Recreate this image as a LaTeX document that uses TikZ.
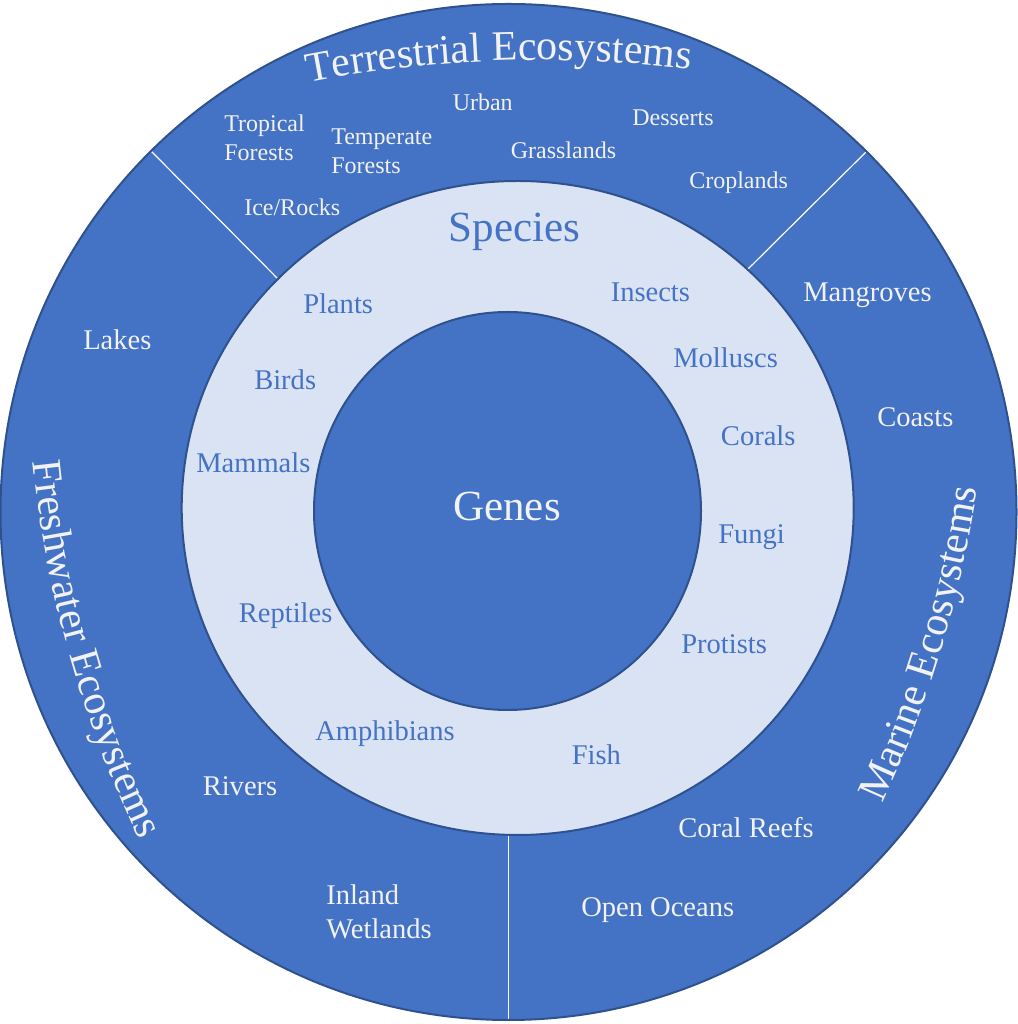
\documentclass[tikz,border=0pt]{standalone}
\usepackage{fontspec}
\setmainfont{Liberation Serif}
\usetikzlibrary{decorations.text,calc}
\definecolor{bluefill}{HTML}{4472C4}
\definecolor{blueline}{HTML}{2F528F}
\definecolor{lightfill}{HTML}{DAE3F3}
\definecolor{txtlight}{HTML}{F2F2F2}
\newcommand{\titlefnt}{\fontsize{31.5}{37}\selectfont}
\begin{document}
\begin{tikzpicture}[x=0.75pt,y=0.75pt,
  itemW/.style={text=txtlight, font=\fontsize{21.4}{25.5}\selectfont, inner sep=0pt, anchor=base west, align=left},
  itemT/.style={text=txtlight, font=\fontsize{18}{21.9}\selectfont, inner sep=0pt, anchor=base west, align=left},
  itemS/.style={text=bluefill, font=\fontsize{21.4}{25.5}\selectfont, inner sep=0pt, anchor=base west},
  bigS/.style={font=\fontsize{32.25}{38}\selectfont, inner sep=0pt, anchor=base west},
  divider/.style={draw=white, line width=0.9pt},
  ring/.style={draw=blueline, line width=1.5pt},
  titletext/.style={decorate, decoration={text along path, text={|\titlefnt|#1}, text align=center, text color=txtlight}}
]
\useasboundingbox (0,0) rectangle (1017,1024);
\fill[white] (0,0) rectangle (1017,1024);
% outer ring
\fill[bluefill] (508.5,512) circle[radius=508];
\coordinate (l1) at (150,874);
\coordinate (l2) at (285,738);
\coordinate (r1) at (867,873);
\coordinate (r2) at (740,747);
\coordinate (b1) at (508.3,2);
\coordinate (b2) at (508.3,200);
\draw[divider] (l1) -- (l2);
\draw[divider] (r1) -- (r2);
\draw[divider] (b1) -- (b2);
\draw[ring] (508.5,512) circle[radius=508];
% species ring
\filldraw[ring, fill=lightfill] (517.7,516) ellipse[x radius=336, y radius=327];
% genes
\filldraw[ring, fill=bluefill] (507.5,513) ellipse[x radius=193.5, y radius=199];

% titles along arcs
\path[titletext={Terrestrial Ecosystems}] ($(540,-236)+(103.96:1200)$) arc[start angle=103.96, end angle=79.96, radius=1200];
\path[titletext={Freshwater Ecosystems}] ($(1161,676.6)+(182.76:1134)$) arc[start angle=182.76, end angle=208.76, radius=1134];
\path[titletext={Marine Ecosystems}] ($(-142.9,699.7)+(-29.7:1132)$) arc[start angle=-29.7, end angle=-3.7, radius=1132];

% terrestrial items
\node[itemT] (trop) at (224,863) {Tropical\\Forests};
\node[itemT] (temp) at (331,850) {Temperate\\Forests};
\node[itemT] (urban) at (452.5,913) {Urban};
\node[itemT] (dess) at (632,898) {Desserts};
\node[itemT] (grass) at (510.5,865) {Grasslands};
\node[itemT] (crop) at (689,835) {Croplands};
\node[itemT] (ice) at (244,808) {Ice/Rocks};

% marine items
\node[itemW] (mang) at (803,722) {Mangroves};
\node[itemW] (coasts) at (877,597) {Coasts};
\node[itemW] (creefs) at (678,186) {Coral Reefs};
\node[itemW] (oceans) at (581,107) {Open Oceans};

% freshwater items
\node[itemW] (lakes) at (83,674) {Lakes};
\node[itemW] (rivers) at (202.5,228.5) {Rivers};
\node[itemW] (inland) at (326,85) {Inland\\Wetlands};

% species items
\node[bigS, text=bluefill] (species) at (448.4,782) {Species};
\node[itemS] (plants) at (303,710) {Plants};
\node[itemS] (birds) at (254,634.3) {Birds};
\node[itemS] (mammals) at (196,551) {Mammals};
\node[itemS] (reptiles) at (238.6,401) {Reptiles};
\node[itemS] (amph) at (315,283) {Amphibians};
\node[itemS] (fish) at (571.5,259) {Fish};
\node[itemS] (protists) at (681,370) {Protists};
\node[itemS] (fungi) at (718,480.3) {Fungi};
\node[itemS] (corals) at (720.7,578) {Corals};
\node[itemS] (molluscs) at (673,656) {Molluscs};
\node[itemS] (insects) at (610.5,722.3) {Insects};

% genes
\node[bigS, text=txtlight] (genes) at (453,503.3) {Genes};
\end{tikzpicture}
\end{document}
